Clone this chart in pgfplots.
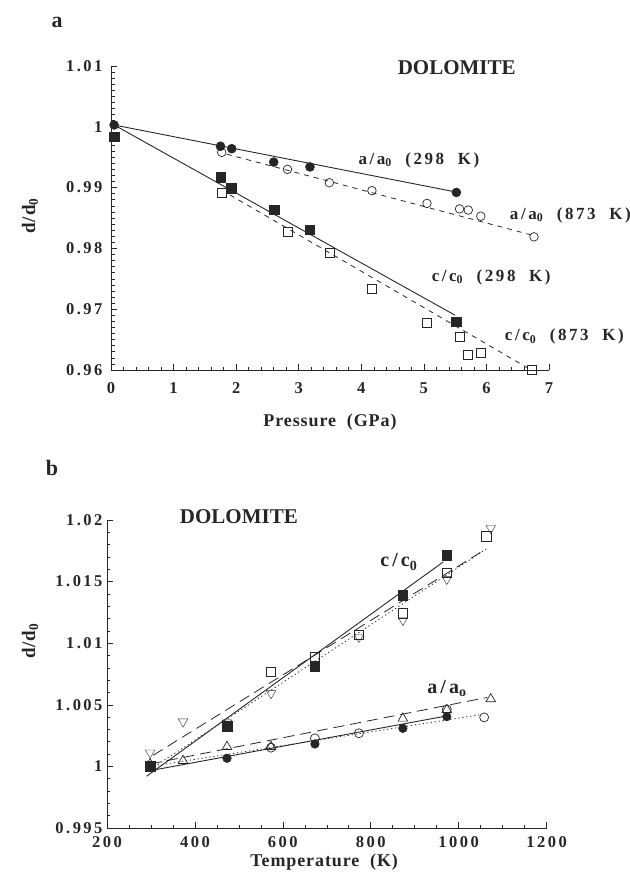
\documentclass[border=0pt]{standalone}
\usepackage{fontspec}
\setmainfont{Liberation Serif}
\newfontfamily\spaced{Liberation Serif}[LetterSpace=15]
\newfontfamily\slight{Liberation Serif}[LetterSpace=5]
\usepackage{pgfplots}
\pgfplotsset{compat=1.18}
\definecolor{ink}{gray}{0.15}
\pgfplotsset{
  myax/.style={
    scale only axis, anchor=south west,
    axis x line=bottom, axis y line=left,
    axis line style={-, line width=0.7pt, ink},
    tick style={line width=0.6pt, ink},
    major tick length=6pt, minor tick length=3.5pt,
    tick align=inside,
    /pgf/number format/assume math mode=true,
    /pgf/number format/1000 sep={},
    tick label style={font=\spaced\bfseries\fontsize{16.5}{16.5}\selectfont, text=ink},
    xlabel style={font=\slight\bfseries\fontsize{18}{18}\selectfont, text=ink},
    ylabel style={font=\slight\bfseries\fontsize{19}{19}\selectfont, text=ink},
    clip=false,
  },
  fillmk/.style={only marks, ink, mark options={solid, fill=ink, draw=ink, line width=0.5pt}},
  openmk/.style={only marks, ink, mark options={solid, draw=ink, line width=0.7pt}},
  fitline/.style={no marks, ink, line width=0.9pt},
}
\newcommand{\lab}{\spaced\bfseries\fontsize{17}{17}\selectfont}
\newcommand{\biglab}{\bfseries\fontsize{21}{21}\selectfont}
\begin{document}
\begin{tikzpicture}
\path[use as bounding box] (0pt,0pt) rectangle (629pt,-885pt);

% ---------------- panel a ----------------
\begin{axis}[myax, at={(111pt,-370pt)}, width=438pt, height=304pt,
  xmin=0, xmax=7, ymin=0.96, ymax=1.01,
  xtick={0,1,2,3,4,5,6,7}, ytick={0.96,0.97,0.98,0.99,1,1.01},
  minor x tick num=4, minor y tick num=9,
  xlabel={Pressure\ \ (GPa)}, ylabel={d/d\textsubscript{0}},
  xlabel style={at={(axis description cs:0.5,-0.171)}, anchor=center},
  ylabel style={at={(axis description cs:-0.185,0.507)}, anchor=center},
  xticklabel style={yshift=-9pt}, yticklabel style={xshift=-5pt},
]
% fit lines
\addplot[fitline] coordinates {(0.05,1.0003) (5.50,0.9893)};
\addplot[fitline] coordinates {(0.05,1.0003) (5.50,0.9690)};
\addplot[fitline, line width=0.8pt, dash pattern=on 5pt off 5pt] coordinates {(1.85,0.9955) (6.76,0.9821)};
\addplot[fitline, line width=0.8pt, dash pattern=on 5pt off 5pt] coordinates {(1.90,0.9888) (6.70,0.9601)};
% a/a0 298 K
\addplot[fillmk, mark=*, mark size=4.5pt] coordinates {(0.05,1.0003) (1.75,0.9968) (1.93,0.9964) (2.60,0.9942) (3.18,0.9934) (5.52,0.9892)};
% a/a0 873 K
\addplot[openmk, mark=o, mark size=4.3pt] coordinates {(1.77,0.9958) (2.82,0.9930) (3.49,0.9908) (4.17,0.9895) (5.05,0.9874) (5.57,0.9865) (5.71,0.9863) (5.91,0.9853) (6.76,0.9819)};
% c/c0 298 K
\addplot[fillmk, mark=square*, mark size=4.7pt] coordinates {(0.05,0.9984) (1.75,0.9917) (1.92,0.9899) (2.61,0.9864) (3.18,0.9831) (5.52,0.9679)};
% c/c0 873 K
\addplot[openmk, mark=square, mark size=4.5pt] coordinates {(1.77,0.9892) (2.82,0.9827) (3.49,0.9792) (4.17,0.9734) (5.05,0.9678) (5.57,0.9654) (5.71,0.9625) (5.91,0.9629) (6.73,0.9600)};
\node[font=\biglab, text=ink] at (axis cs:5.525,1.00975) {DOLOMITE};
\node[font=\lab, text=ink, anchor=west] at (axis cs:3.90,0.99454) {a/a\textsubscript{0}\ \ (298\ \ K)};
\node[font=\lab, text=ink, anchor=west] at (axis cs:6.32,0.98549) {a/a\textsubscript{0}\ \ (873\ \ K)};
\node[font=\lab, text=ink, anchor=west] at (axis cs:5.07,0.97530) {c/c\textsubscript{0}\ \ (298\ \ K)};
\node[font=\lab, text=ink, anchor=west] at (axis cs:6.24,0.96549) {c/c\textsubscript{0}\ \ (873\ \ K)};
\end{axis}

% ---------------- panel b ----------------
\begin{axis}[myax, at={(107pt,-828pt)}, width=439.6pt, height=308pt,
  xmin=200, xmax=1200, ymin=0.995, ymax=1.02,
  xtick={200,400,600,800,1000,1200},
  ytick={0.995,1,1.005,1.01,1.015,1.02},
  yticklabels={0.995,1,1.005,1.01,1.015,1.02},
  minor x tick num=3, minor y tick num=4,
  xlabel={Temperature\ \ (K)}, ylabel={d/d\textsubscript{0}},
  xlabel style={at={(axis description cs:0.494,-0.11)}, anchor=center},
  ylabel style={at={(axis description cs:-0.175,0.607)}, anchor=center},
  xticklabel style={yshift=-5pt}, yticklabel style={xshift=-1pt},
]
% fit lines c/c0
\addplot[fitline] coordinates {(290,0.9992) (965,1.0166)};
\addplot[fitline, line width=0.8pt, dash pattern=on 11pt off 6pt] coordinates {(305,1.0009) (1060,1.0176)};
\addplot[fitline, line width=0.8pt, dash pattern=on 1.2pt off 2.8pt] coordinates {(300,0.9998) (1065,1.0177)};
% fit lines a/a0
\addplot[fitline] coordinates {(290,0.9996) (973,1.0041)};
\addplot[fitline, line width=0.8pt, dash pattern=on 11pt off 6pt] coordinates {(298,1.0002) (1065,1.0056)};
\addplot[fitline, line width=0.8pt, dash pattern=on 1.2pt off 2.8pt] coordinates {(298,1.0000) (1050,1.0042)};
% a/a0
\addplot[fillmk, mark=*, mark size=4.3pt] coordinates {(298,1.0000) (473,1.00066) (673,1.00182) (873,1.00309) (973,1.00404)};
\addplot[openmk, mark=o, mark size=4.5pt] coordinates {(298,1.0000) (573,1.00152) (673,1.00228) (773,1.00269) (973,1.00463) (1058,1.00398)};
\addplot[openmk, mark=triangle, mark size=5.5pt] coordinates {(298,1.0002) (373,1.00046) (473,1.0016) (573,1.0016) (873,1.0039) (973,1.0046) (1073,1.00547)};
% c/c0
\addplot[fillmk, mark=square*, mark size=4.8pt] coordinates {(298,1.0000) (473,1.00328) (673,1.00809) (873,1.01391) (973,1.01716)};
\addplot[openmk, mark=square, mark size=4.8pt] coordinates {(298,1.0000) (573,1.00769) (673,1.0089) (773,1.01067) (873,1.01243) (973,1.01572) (1063,1.01865)};
\addplot[openmk, mark=triangle, mark size=5.5pt, mark options={rotate=180}] coordinates {(298,1.00111) (373,1.00363) (473,1.00355) (573,1.00593) (773,1.0105) (873,1.01188) (973,1.0152) (1073,1.01933)};
\node[font=\biglab, text=ink] at (axis cs:500,1.02024) {DOLOMITE};
\node[font=\spaced\bfseries\fontsize{20}{20}\selectfont, text=ink] at (axis cs:864,1.01659) {c/c\textsubscript{0}};
\node[font=\spaced\bfseries\fontsize{20}{20}\selectfont, text=ink, anchor=west] at (axis cs:921,1.00636) {a/a\textsubscript{o}};
\end{axis}

\node[font=\bfseries\fontsize{22}{22}\selectfont, text=ink] at (57pt,-22pt) {a};
\node[font=\bfseries\fontsize{22}{22}\selectfont, text=ink] at (52pt,-468pt) {b};
\end{tikzpicture}
\end{document}
